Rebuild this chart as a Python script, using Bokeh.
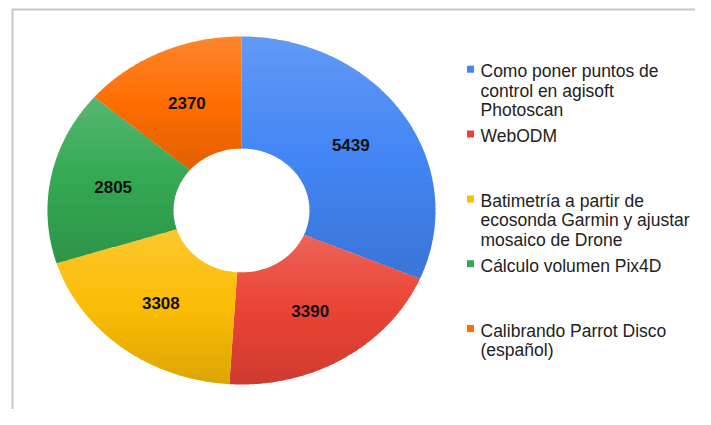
import numpy as np
from bokeh.plotting import figure
from bokeh.models import Range1d
from bokeh.embed import file_html
from bokeh.resources import INLINE
from bokeh.core.properties import value

# ---------------- data ----------------
categories = [
    "Como poner puntos de control en agisoft Photoscan",
    "WebODM",
    "Batimetría a partir de ecosonda Garmin y ajustar mosaico de Drone",
    "Cálculo volumen Pix4D",
    "Calibrando Parrot Disco (español)",
]
legend_labels = [
    "Como poner puntos de\ncontrol en agisoft\nPhotoscan",
    "WebODM",
    "Batimetría a partir de\necosonda Garmin y ajustar\nmosaico de Drone",
    "Cálculo volumen Pix4D",
    "Calibrando Parrot Disco\n(español)",
]
values = [5439, 3390, 3308, 2805, 2370]
colors = ["#4285f4", "#ea4335", "#fbbc04", "#34a853", "#ff6d01"]

# ---------------- layout ----------------
W, H = 695, 409
CX, CY = 241.0, 210.0
RXO, RYO = 194.0, 174.0
RXI, RYI = 68.0, 62.0
FONT = value("Liberation Sans")

p = figure(width=W, height=H, x_range=Range1d(0, W), y_range=Range1d(H, 0),
           output_backend="svg", toolbar_location=None, min_border=0,
           x_axis_location=None, y_axis_location=None)
p.grid.visible = False
p.outline_line_color = None
p.background_fill_color = "white"
p.border_fill_color = "white"

# chart frame (top and left edges visible)
p.segment(x0=[12, 11], y0=[9, 9], x1=[12, W], y1=[H, 9],
          line_color="#c8c8c8", line_width=2)


def hex2rgb(h):
    h = h.lstrip("#")
    return np.array([int(h[i:i + 2], 16) for i in (0, 2, 4)], dtype=float)


def rgb2hex(c):
    c = np.clip(np.round(c), 0, 255).astype(int)
    return "#%02x%02x%02x" % tuple(c)


def grad_color(base, t):
    b = hex2rgb(base)
    top = b + (255 - b) * 0.17
    bot = b * 0.88
    if t < 0.5:
        c = top + (b - top) * (t / 0.5)
    else:
        c = b + (bot - b) * ((t - 0.5) / 0.5)
    return rgb2hex(c)


def clip_half(pts, ylim, keep_above):
    out = []
    n = len(pts)
    for i in range(n):
        cur = pts[i]
        prev = pts[i - 1]
        cin = cur[1] >= ylim if keep_above else cur[1] <= ylim
        pin = prev[1] >= ylim if keep_above else prev[1] <= ylim
        if cin:
            if not pin:
                t = (ylim - prev[1]) / (cur[1] - prev[1])
                out.append((prev[0] + t * (cur[0] - prev[0]), ylim))
            out.append(cur)
        elif pin:
            t = (ylim - prev[1]) / (cur[1] - prev[1])
            out.append((prev[0] + t * (cur[0] - prev[0]), ylim))
    return out


total = float(sum(values))
cum = np.concatenate([[0.0], np.cumsum(values)]) / total * 2 * np.pi

band_xs, band_ys, band_cols = [], [], []
lab_x, lab_y = [], []
NB = 48
for k, v in enumerate(values):
    t0, t1 = cum[k], cum[k + 1]
    tt = np.linspace(t0, t1, 160)
    ox = CX + RXO * np.sin(tt)
    oy = CY - RYO * np.cos(tt)
    ix = CX + RXI * np.sin(tt[::-1])
    iy = CY - RYI * np.cos(tt[::-1])
    poly = list(zip(np.concatenate([ox, ix]), np.concatenate([oy, iy])))
    ymin = min(q[1] for q in poly)
    ymax = max(q[1] for q in poly)
    h = (ymax - ymin) / NB
    for b in range(NB):
        ya = ymin + b * h
        yb = ya + h + 0.8
        part = clip_half(poly, ya, True)
        if len(part) < 3:
            continue
        part = clip_half(part, yb, False)
        if len(part) < 3:
            continue
        band_xs.append([q[0] for q in part])
        band_ys.append([q[1] for q in part])
        band_cols.append(grad_color(colors[k], (b + 0.5) / NB))
    tm = 0.5 * (t0 + t1)
    lab_x.append(CX + 0.5 * (RXO + RXI) * np.sin(tm))
    lab_y.append(CY - 0.5 * (RYO + RYI) * np.cos(tm))

p.patches(band_xs, band_ys, fill_color=band_cols, line_color=None)

p.text(x=lab_x, y=lab_y, text=[str(v) for v in values], text_align="center",
       text_baseline="middle", text_font=FONT, text_font_style="bold",
       text_font_size="17px", text_color="#111111")

# ---------------- legend ----------------
LX, LY0, LSTEP, LLINE = 480.0, 70.8, 64.8, 19.3
sq_x, sq_y = [], []
tx, ty, tt_ = [], [], []
for i, lab in enumerate(legend_labels):
    y0 = LY0 + i * LSTEP
    sq_x.append(LX - 10)
    sq_y.append(y0 - 2)
    for j, line in enumerate(lab.split("\n")):
        tx.append(LX)
        ty.append(y0 + j * LLINE)
        tt_.append(line)

p.rect(x=sq_x, y=sq_y, width=7, height=7, fill_color=colors, line_color=None)
p.text(x=tx, y=ty, text=tt_, text_align="left", text_baseline="middle",
       text_font=FONT, text_font_size="17.5px", text_color="#222222")

open("out.html", "w").write(file_html(p, INLINE))
